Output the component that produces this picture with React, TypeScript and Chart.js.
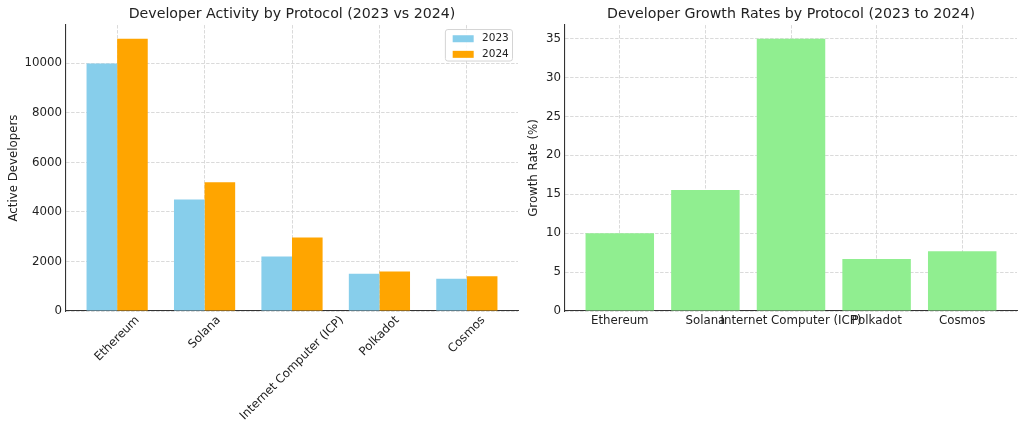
import React, { useEffect, useRef } from 'react';
import { Chart, registerables } from 'chart.js';

Chart.register(...registerables);

const protocols = ['Ethereum', 'Solana', 'Internet Computer (ICP)', 'Polkadot', 'Cosmos'];
const seriesLabels = ['2023', '2024'];
const devs2023 = [10000, 4500, 2200, 1500, 1300];
const devs2024 = [11000, 5200, 2970, 1600, 1400];
const growthRates = [10.0, 15.56, 35.0, 6.67, 7.69];
const devTicks = [0, 2000, 4000, 6000, 8000, 10000];
const growthTicks = [0, 5, 10, 15, 20, 25, 30, 35];

const FONT = '"DejaVu Sans", "Liberation Sans", sans-serif';
const TEXT = '#222222';
const GRID = '#d6d6d6';
const AXIS = '#333333';

const gridOpts = { color: GRID, lineWidth: 0.9, drawTicks: false, offset: false };
const borderOpts = { display: true, color: AXIS, width: 1.1, dash: [3.5, 1.5] };

const rotatedLabelsPlugin = {
  id: 'rotatedLabels',
  afterDraw(chart: any) {
    const xScale = chart.scales.x;
    const ctx = chart.ctx;
    const size = 11.8;
    ctx.save();
    ctx.font = `${size}px ${FONT}`;
    ctx.fillStyle = TEXT;
    ctx.textAlign = 'center';
    ctx.textBaseline = 'middle';
    const y0 = chart.chartArea.bottom + 2.5;
    const h = size * 1.16;
    protocols.forEach((label, i) => {
      const w = ctx.measureText(label).width;
      const H = (w + h) * Math.SQRT1_2;
      const x = xScale.getPixelForValue(i);
      ctx.save();
      ctx.translate(x, y0 + H / 2);
      ctx.rotate(-Math.PI / 4);
      ctx.fillText(label, 0, 0);
      ctx.restore();
    });
    ctx.restore();
  },
};

const innerLegendPlugin = {
  id: 'innerLegend',
  afterDatasetsDraw(chart: any) {
    const ctx = chart.ctx;
    const area = chart.chartArea;
    const size = 10.5;
    ctx.save();
    ctx.font = `${size}px ${FONT}`;
    const ds = chart.data.datasets;
    const textW = Math.max(...ds.map((d: any) => ctx.measureText(d.label).width));
    const padL = 7.3, swW = 21, swH = 7, gap = 8.4, padR = 3.7;
    const boxW = padL + swW + gap + textW + padR;
    const right = area.right - 5.5;
    const left = right - boxW;
    const top = area.top + 4.5;
    const rowH = 15.6;
    const boxH = 31.5;
    ctx.beginPath();
    const r = 2.5;
    ctx.moveTo(left + r, top);
    ctx.lineTo(left + boxW - r, top);
    ctx.quadraticCurveTo(left + boxW, top, left + boxW, top + r);
    ctx.lineTo(left + boxW, top + boxH - r);
    ctx.quadraticCurveTo(left + boxW, top + boxH, left + boxW - r, top + boxH);
    ctx.lineTo(left + r, top + boxH);
    ctx.quadraticCurveTo(left, top + boxH, left, top + boxH - r);
    ctx.lineTo(left, top + r);
    ctx.quadraticCurveTo(left, top, left + r, top);
    ctx.closePath();
    ctx.fillStyle = 'rgba(255,255,255,0.85)';
    ctx.fill();
    ctx.strokeStyle = '#d4d4d4';
    ctx.lineWidth = 1;
    ctx.stroke();
    ds.forEach((d: any, i: number) => {
      const cy = top + 9.2 + i * rowH;
      ctx.fillStyle = d.backgroundColor;
      ctx.fillRect(left + padL, cy - swH / 2, swW, swH);
      ctx.fillStyle = TEXT;
      ctx.textAlign = 'left';
      ctx.textBaseline = 'middle';
      ctx.fillText(d.label, left + padL + swW + gap, cy);
    });
    ctx.restore();
  },
};

function makeTitle(text: string) {
  return {
    display: true,
    text,
    color: TEXT,
    font: { family: FONT, size: 14.2, weight: 'normal' as const, lineHeight: 1.2 },
    padding: { top: 5.5, bottom: 2.5 },
    fullSize: false,
  };
}

function yTitle(text: string) {
  return {
    display: true,
    text,
    color: TEXT,
    font: { family: FONT, size: 11.8, lineHeight: 1.2 },
    padding: { top: 6.5, bottom: 0 },
  };
}

export default function App() {
  const leftRef = useRef<HTMLCanvasElement>(null);
  const rightRef = useRef<HTMLCanvasElement>(null);

  useEffect(() => {
    Chart.defaults.font.family = FONT;
    const left = new Chart(leftRef.current as HTMLCanvasElement, {
      type: 'bar',
      data: {
        datasets: [
          {
            label: seriesLabels[0],
            data: devs2023.map((v, i) => ({ x: i, y: v })),
            backgroundColor: '#87CEEB',
            borderWidth: 0,
            categoryPercentage: 0.7,
            barPercentage: 1,
          },
          {
            label: seriesLabels[1],
            data: devs2024.map((v, i) => ({ x: i, y: v })),
            backgroundColor: '#FFA500',
            borderWidth: 0,
            categoryPercentage: 0.7,
            barPercentage: 1,
          },
        ],
      },
      options: {
        responsive: false,
        animation: false,
        layout: { padding: { left: 0, right: 2, top: 0, bottom: 0 } },
        scales: {
          x: {
            type: 'linear',
            min: -0.585,
            max: 4.585,
            offset: false,
            grid: gridOpts,
            border: borderOpts,
            ticks: { display: false },
            afterBuildTicks: (s: any) => {
              s.ticks = protocols.map((_, i) => ({ value: i }));
            },
            afterFit: (s: any) => {
              s.height = 124;
            },
          },
          y: {
            type: 'linear',
            min: 0,
            max: 11550,
            grid: gridOpts,
            border: borderOpts,
            title: yTitle('Active Developers'),
            ticks: {
              color: TEXT,
              font: { family: FONT, size: 11.8 },
              padding: 4,
              callback: (v: any) => String(v),
            },
            afterBuildTicks: (s: any) => {
              s.ticks = devTicks.map((v) => ({ value: v }));
            },
            afterFit: (s: any) => {
              s.width = 66;
            },
          },
        },
        plugins: {
          legend: { display: false },
          tooltip: { enabled: false },
          title: makeTitle('Developer Activity by Protocol (2023 vs 2024)'),
        },
      } as any,
      plugins: [rotatedLabelsPlugin, innerLegendPlugin],
    });

    const right = new Chart(rightRef.current as HTMLCanvasElement, {
      type: 'bar',
      data: {
        datasets: [
          {
            label: 'Growth Rate (%)',
            data: growthRates.map((v, i) => ({ x: i, y: v })),
            backgroundColor: '#90EE90',
            borderWidth: 0,
            categoryPercentage: 0.8,
            barPercentage: 1,
          },
        ],
      },
      options: {
        responsive: false,
        animation: false,
        layout: { padding: { left: 0, right: 7, top: 0, bottom: 0 } },
        scales: {
          x: {
            type: 'linear',
            min: -0.64,
            max: 4.64,
            offset: false,
            grid: gridOpts,
            border: borderOpts,
            ticks: {
              color: TEXT,
              font: { family: FONT, size: 11.8 },
              padding: 3,
              autoSkip: false,
              maxRotation: 0,
              minRotation: 0,
              callback: (v: any) => protocols[v] ?? '',
            },
            afterBuildTicks: (s: any) => {
              s.ticks = protocols.map((_, i) => ({ value: i }));
            },
            afterFit: (s: any) => {
              s.height = 124;
            },
          },
          y: {
            type: 'linear',
            min: 0,
            max: 36.75,
            grid: gridOpts,
            border: borderOpts,
            title: yTitle('Growth Rate (%)'),
            ticks: {
              color: TEXT,
              font: { family: FONT, size: 11.8 },
              padding: 4,
              callback: (v: any) => String(v),
            },
            afterBuildTicks: (s: any) => {
              s.ticks = growthTicks.map((v) => ({ value: v }));
            },
            afterFit: (s: any) => {
              s.width = 45;
            },
          },
        },
        plugins: {
          legend: { display: false },
          tooltip: { enabled: false },
          title: makeTitle('Developer Growth Rates by Protocol (2023 to 2024)'),
        },
      } as any,
    });

    return () => {
      left.destroy();
      right.destroy();
    };
  }, []);

  return (
    <div style={{ position: 'absolute', left: 0, top: 0, width: 1024, height: 435, background: '#ffffff' }}>
      <canvas ref={leftRef} width={520} height={435} style={{ position: 'absolute', left: 0, top: 0 }} />
      <canvas ref={rightRef} width={504} height={435} style={{ position: 'absolute', left: 520, top: 0 }} />
    </div>
  );
}
